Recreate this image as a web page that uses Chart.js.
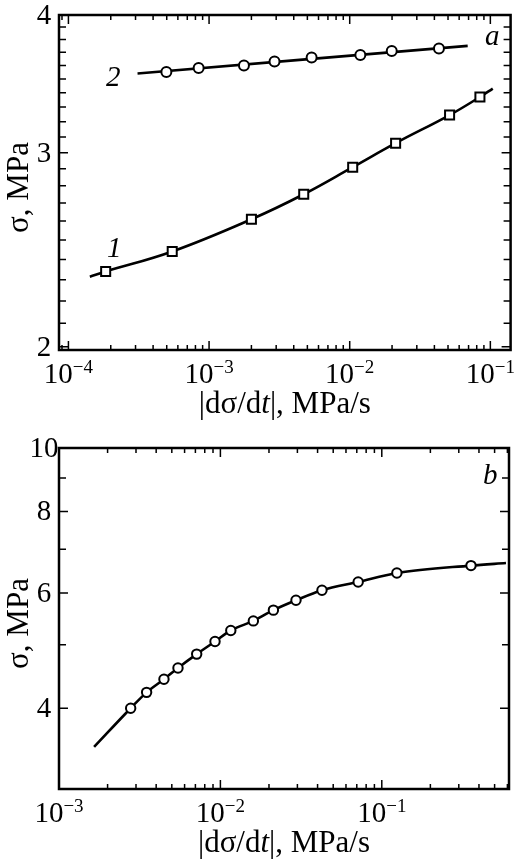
<!DOCTYPE html>
<html lang="en">
<head>
<meta charset="UTF-8">
<title>Stress vs loading rate</title>
<script src="https://cdn.jsdelivr.net/npm/chart.js@4.4.3/dist/chart.umd.min.js"></script>
<style>
  body { margin: 0; background: #fff; }
  canvas { position: absolute; left: 0; }
</style>
</head>
<body>
<canvas id="chartA" width="519" height="420" style="top:0"></canvas>
<canvas id="chartB" width="519" height="440" style="top:420px"></canvas>
<script>
const SERIF = '"Liberation Serif", "Times New Roman", serif';

// panel a, curve 1 (squares)
const rateA1 = [1.84e-4, 5.47e-4, 2.00e-3, 4.71e-3, 1.05e-2, 2.12e-2, 5.13e-2, 8.43e-2];
const stressA1 = [2.34, 2.44, 2.61, 2.75, 2.91, 3.06, 3.245, 3.37];
const curveRateA1 = [1.42e-4, 1.84e-4, 5.47e-4, 2.00e-3, 4.71e-3, 1.05e-2, 2.12e-2, 5.13e-2, 8.43e-2, 0.104];
const curveStressA1 = [2.315, 2.34, 2.44, 2.61, 2.75, 2.91, 3.06, 3.245, 3.37, 3.43];

// panel a, curve 2 (circles)
const rateA2 = [4.97e-4, 8.43e-4, 1.77e-3, 2.92e-3, 5.36e-3, 1.19e-2, 1.99e-2, 4.31e-2];
const stressA2 = [3.55, 3.58, 3.60, 3.63, 3.66, 3.68, 3.71, 3.73];
const curveRateA2 = [3.10e-4, 6.9e-2];
const curveStressA2 = [3.54, 3.75];

// panel b (circles)
const rateB = [2.78e-3, 3.49e-3, 4.47e-3, 5.46e-3, 7.13e-3, 9.26e-3, 1.16e-2, 1.60e-2, 2.13e-2, 2.94e-2, 4.26e-2, 7.14e-2, 0.124, 0.357];
const stressB = [4.00, 4.23, 4.43, 4.61, 4.84, 5.06, 5.26, 5.44, 5.65, 5.85, 6.06, 6.24, 6.44, 6.61];
const curveRateB = [1.65e-3, 2.78e-3, 3.49e-3, 4.47e-3, 5.46e-3, 7.13e-3, 9.26e-3, 1.16e-2, 1.60e-2, 2.13e-2, 2.94e-2, 4.26e-2, 7.14e-2, 0.124, 0.357, 0.588];
const curveStressB = [3.49, 4.00, 4.23, 4.43, 4.61, 4.84, 5.06, 5.26, 5.44, 5.65, 5.85, 6.06, 6.24, 6.44, 6.61, 6.67];

// axis ranges and tick labels
const xRangeA = [8.57e-5, 0.1393];
const yRangeA = [1.986, 4.0];
const yLabelsA = [2, 3, 4];
const xRangeB = [1e-3, 0.614];
const yRangeB = [3.01, 10];
const yLabelsB = [4, 6, 8, 10];
const xTitle = [{ t: '|d\u03c3/d' }, { t: 't', i: true }, { t: '|, MPa/s' }];
const yTitle = [{ t: '\u03c3, MPa' }];

function pts(xs, ys) {
  return xs.map((x, i) => ({ x: x, y: ys[i] }));
}

// 1..9 x 10^n ticks inside the range
function logTicks(min, max) {
  const out = [];
  for (let d = Math.floor(Math.log10(min)); d <= Math.ceil(Math.log10(max)); d++) {
    for (let m = 1; m <= 9; m++) {
      const v = Number((m * Math.pow(10, d)).toPrecision(6));
      if (v >= min && v <= max) out.push({ v: v, major: m === 1 });
    }
  }
  return out;
}

function stepTicks(from, to, step, labels) {
  const out = [];
  for (let v = from; v <= to + 1e-9; v += step) {
    const r = Math.round(v * 100) / 100;
    out.push({ v: r, major: labels.includes(r) });
  }
  return out;
}

function font(size, italic) {
  return (italic ? 'italic ' : '') + size + 'px ' + SERIF;
}

// text made of normal / italic pieces, centred on cx
function drawRich(ctx, parts, cx, baseline, size) {
  let total = 0;
  parts.forEach(p => { ctx.font = font(size, p.i); p.w = ctx.measureText(p.t).width; total += p.w; });
  let x = cx - total / 2;
  ctx.textAlign = 'left';
  ctx.textBaseline = 'alphabetic';
  parts.forEach(p => { ctx.font = font(size, p.i); ctx.fillText(p.t, x, baseline); x += p.w; });
}

function drawPow(ctx, exp, cx, baseline) {
  const e = '\u2212' + Math.abs(exp);
  ctx.font = font(29); const w1 = ctx.measureText('10').width;
  ctx.font = font(19); const w2 = ctx.measureText(e).width;
  let x = cx - (w1 + w2) / 2;
  ctx.textAlign = 'left';
  ctx.textBaseline = 'alphabetic';
  ctx.font = font(29); ctx.fillText('10', x, baseline);
  ctx.font = font(19); ctx.fillText(e, x + w1, baseline - 10);
}

function decor(o) {
  return {
    id: 'decor',
    afterDatasetsDraw(chart) {
      const ctx = chart.ctx, a = chart.chartArea;
      const xs = chart.scales.x, ys = chart.scales.y;
      ctx.save();
      ctx.strokeStyle = '#000';
      ctx.fillStyle = '#000';
      ctx.lineWidth = 1.5;
      ctx.beginPath();
      o.xTicks.forEach(t => {
        const px = xs.getPixelForValue(t.v);
        const len = t.major ? 9 : 5;
        ctx.moveTo(px, a.bottom); ctx.lineTo(px, a.bottom - len);
        ctx.moveTo(px, a.top); ctx.lineTo(px, a.top + len);
      });
      o.yTicks.forEach(t => {
        const py = ys.getPixelForValue(t.v);
        const len = t.major ? 9 : 7;
        ctx.moveTo(a.left, py); ctx.lineTo(a.left + len, py);
        ctx.moveTo(a.right, py); ctx.lineTo(a.right - len, py);
      });
      ctx.stroke();

      ctx.lineWidth = 2.5;
      ctx.strokeRect(a.left, a.top, a.right - a.left, a.bottom - a.top);

      // tick labels
      o.xTicks.filter(t => t.major).forEach(t => {
        drawPow(ctx, Math.round(Math.log10(t.v)), xs.getPixelForValue(t.v), a.bottom + 33);
      });
      ctx.font = font(29);
      ctx.textAlign = 'center';
      ctx.textBaseline = 'alphabetic';
      o.yLabels.forEach(v => {
        ctx.fillText(String(v), 44, ys.getPixelForValue(v) + 9);
      });

      // axis titles
      drawRich(ctx, xTitle, (a.left + a.right) / 2, a.bottom + 63, 31);
      ctx.save();
      ctx.translate(28, (a.top + a.bottom) / 2 + 5);
      ctx.rotate(-Math.PI / 2);
      drawRich(ctx, yTitle, 0, 0, 31);
      ctx.restore();

      // curve numbers and panel letter
      ctx.font = font(29, true);
      ctx.textAlign = 'left';
      o.notes.forEach(n => ctx.fillText(n.t, n.x, n.y));
      ctx.restore();
    }
  };
}

function makeChart(id, o) {
  return new Chart(document.getElementById(id), {
    type: 'scatter',
    data: { datasets: o.datasets },
    options: {
      responsive: false,
      animation: false,
      devicePixelRatio: 1,
      layout: { padding: o.padding },
      plugins: { legend: { display: false }, tooltip: { enabled: false } },
      scales: {
        x: {
          type: 'logarithmic', min: o.xRange[0], max: o.xRange[1],
          grid: { display: false }, border: { display: false }, ticks: { display: false },
          afterFit: s => { s.height = o.xHeight; }
        },
        y: {
          type: 'logarithmic', min: o.yRange[0], max: o.yRange[1],
          grid: { display: false }, border: { display: false }, ticks: { display: false },
          afterFit: s => { s.width = o.yWidth; }
        }
      }
    },
    plugins: [decor(o)]
  });
}

function curve(xs, ys, mode) {
  return {
    data: pts(xs, ys), showLine: true, pointRadius: 0, borderColor: '#000',
    borderWidth: 2.6, cubicInterpolationMode: mode, tension: 0.4, order: 2
  };
}

function markers(xs, ys, style, r) {
  return {
    data: pts(xs, ys), showLine: false, pointStyle: style, pointRadius: r,
    pointBorderWidth: 2, pointBorderColor: '#000', pointBackgroundColor: '#fff', order: 0
  };
}

makeChart('chartA', {
  xRange: xRangeA, yRange: yRangeA,
  padding: { top: 15, right: 4, left: 0, bottom: 0 },
  xHeight: 70, yWidth: 59,
  xTicks: logTicks(xRangeA[0], xRangeA[1]),
  yTicks: stepTicks(2, 4, 0.1, yLabelsA),
  yLabels: yLabelsA,
  notes: [{ t: 'a', x: 485, y: 45 }, { t: '2', x: 106, y: 86 }, { t: '1', x: 107, y: 257 }],
  datasets: [
    markers(rateA1, stressA1, 'rect', 6.4),
    markers(rateA2, stressA2, 'circle', 5),
    curve(curveRateA1, curveStressA1, 'default'),
    curve(curveRateA2, curveStressA2, 'default')
  ]
});

makeChart('chartB', {
  xRange: xRangeB, yRange: yRangeB,
  padding: { top: 28, right: 10, left: 0, bottom: 0 },
  xHeight: 71, yWidth: 59,
  xTicks: logTicks(xRangeB[0], xRangeB[1]),
  yTicks: stepTicks(4, 10, 1, yLabelsB),
  yLabels: yLabelsB,
  notes: [{ t: 'b', x: 483, y: 64 }],
  datasets: [
    markers(rateB, stressB, 'circle', 4.7),
    curve(curveRateB, curveStressB, 'monotone')
  ]
});
</script>
</body>
</html>
